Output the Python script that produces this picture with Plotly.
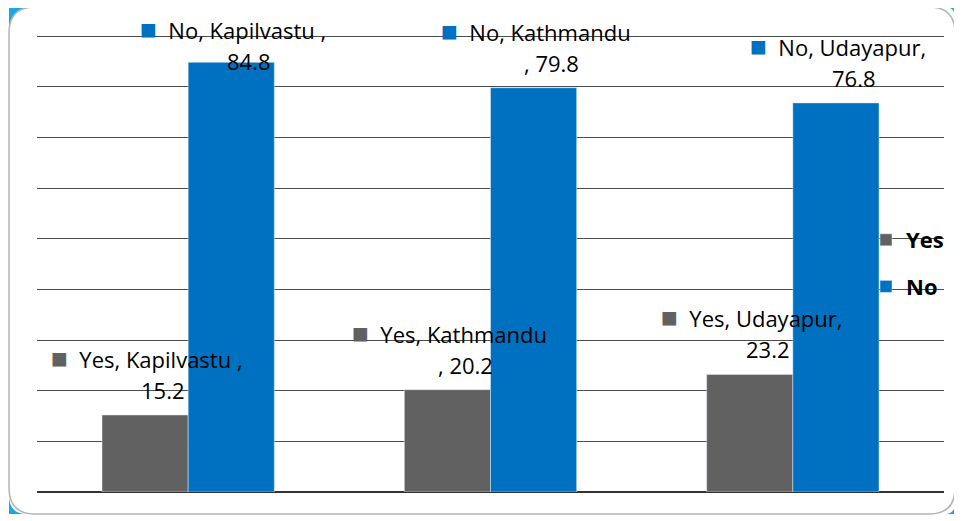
import plotly.graph_objects as go

# data
districts = ["Kapilvastu", "Kathmandu", "Udayapur"]
yes_values = [15.2, 20.2, 23.2]
no_values = [84.8, 79.8, 76.8]

# how Excel wrapped each data label (line 1 / line 2)
label_line1 = ["{s}, Kapilvastu ,", "{s}, Kathmandu", "{s}, Udayapur,"]
label_line2 = ["{v}", ", {v}", "{v}"]

YES_COLOR = "#616161"
NO_COLOR = "#0070c0"
FONT = "'Open Sans', Lato, sans-serif"
FS = 22

# the page body has an 8px margin, so the figure is drawn 8px in from the corner
OFF = 8
W, H = 962 - OFF, 521 - OFF
L, R, T, B = 29, 18, 27, 29
PW, PH = W - L - R, H - T - B
YMAX = 90.2
BARGAP = 0.43
bar_w = (1 - BARGAP) / 2


def px_x(px):
    # px in window coordinates -> paper x
    return (px - OFF - L) / PW


def px_y(py):
    return (H - B - (py - OFF)) / PH


fig = go.Figure()
fig.add_trace(go.Bar(x=list(range(len(districts))), y=yes_values, name="Yes",
                     marker_color=YES_COLOR, legendgroup="yes"))
fig.add_trace(go.Bar(x=list(range(len(districts))), y=no_values, name="No",
                     marker_color=NO_COLOR, legendgroup="no"))

annotations = []
series = [("Yes", yes_values, YES_COLOR, -1), ("No", no_values, NO_COLOR, 1)]
for s_name, vals, col, side in series:
    for i, v in enumerate(vals):
        xc = i + side * bar_w / 2
        # label sits ~58px above the bar, pushed down when it would hit the top
        top_px = v / YMAX * PH
        up1 = min(58, PH - top_px + 7)
        up2 = up1 - 33
        line1 = label_line1[i].format(s=s_name)
        line2 = label_line2[i].format(v=v)
        annotations.append(dict(
            x=xc, y=v, xref="x", yref="y", showarrow=False,
            text=f"<span style='color:{col};font-size:28px'>■</span>\u00a0\u00a0{line1}",
            xshift=2, yshift=up1, yanchor="middle",
            font=dict(family=FONT, size=FS, color="#000000")))
        annotations.append(dict(
            x=xc, y=v, xref="x", yref="y", showarrow=False,
            text=line2, xshift=18, yshift=up2, yanchor="middle",
            font=dict(family=FONT, size=FS, color="#000000")))

# rounded border of the chart area and the blue corner bits behind it
x0, y0, x1, y1, r = px_x(9), px_y(7), px_x(955), px_y(514), 26
rx, ry = r / PW, r / PH
border = (f"M {x0+rx},{y0} L {x1-rx},{y0} Q {x1},{y0} {x1},{y0-ry} "
          f"L {x1},{y1+ry} Q {x1},{y1} {x1-rx},{y1} L {x0+rx},{y1} "
          f"Q {x0},{y1} {x0},{y1+ry} L {x0},{y0-ry} Q {x0},{y0} {x0+rx},{y0} Z")
corners = [
    f"M {x0},{y0} L {x0+rx},{y0} Q {x0},{y0} {x0},{y0-ry} Z",
    f"M {x1},{y0} L {x1-rx*0.4},{y0} Q {x1},{y0} {x1},{y0-ry*0.4} Z",
    f"M {x1},{y1} L {x1-rx*0.4},{y1} Q {x1},{y1} {x1},{y1+ry*0.4} Z",
    f"M {x0},{y1} L {x0+rx*0.7},{y1} Q {x0},{y1} {x0},{y1+ry*0.7} Z",
]
shapes = [dict(type="path", path=p, xref="paper", yref="paper",
               fillcolor="#19a6e6", line=dict(width=0), layer="below")
          for p in corners]
shapes.append(dict(type="path", path=border, xref="paper", yref="paper",
                   line=dict(color="#b4b4b4", width=1.5), layer="below"))

fig.update_layout(
    width=W, height=H,
    margin=dict(l=L, r=R, t=T, b=B, autoexpand=False),
    paper_bgcolor="white", plot_bgcolor="rgba(0,0,0,0)",
    barmode="group", bargap=BARGAP, bargroupgap=0,
    font=dict(family=FONT, size=FS, color="#000000"),
    showlegend=True,
    legend=dict(x=px_x(866), y=px_y(219), xanchor="left", yanchor="top",
                bgcolor="rgba(0,0,0,0)", tracegroupgap=15, itemwidth=30,
                font=dict(family=FONT, size=22, color="#000000", weight="bold")),
    xaxis=dict(range=[-0.5, 2.5], showticklabels=False, showgrid=False,
               zeroline=False, showline=False, ticks=""),
    yaxis=dict(range=[0, YMAX], dtick=10, showticklabels=False,
               showgrid=True, gridcolor="#4d4d4d", gridwidth=1.4,
               zeroline=True, zerolinecolor="#333333", zerolinewidth=1.6,
               showline=False, ticks=""),
    annotations=annotations,
    shapes=shapes,
)

fig.write_html("out.html")
